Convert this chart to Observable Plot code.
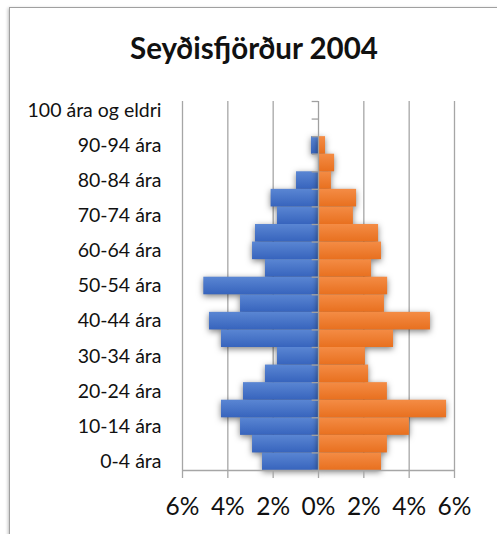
<!DOCTYPE html>
<html>
<head>
<meta charset="utf-8">
<script src="https://cdn.jsdelivr.net/npm/d3@7"></script>
<script src="https://cdn.jsdelivr.net/npm/@observablehq/plot@0.6"></script>
<style>
  body { margin: 0; background: #fff; font-family: Lato, "Open Sans", sans-serif; }
  #frame { position: absolute; left: 9px; top: 7px; width: 600px; height: 600px; border: 1px solid #a0a0a0; box-shadow: -1px 1px 3px rgba(0,0,0,0.25); background: #fff; }
  #title { position: absolute; left: 0; width: 508px; top: 34px; line-height: 28px; text-align: center; font-weight: bold; font-size: 29.5px; color: #111; }
  #chart { position: absolute; left: 0; top: 0; }
</style>
</head>
<body>
<div id="frame"></div>
<div id="chart"></div>
<div id="title">Seyðisfjörður 2004</div>
<script>
const ages = ["0-4 ára","5-9 ára","10-14 ára","15-19 ára","20-24 ára","25-29 ára","30-34 ára","35-39 ára","40-44 ára","45-49 ára","50-54 ára","55-59 ára","60-64 ára","65-69 ára","70-74 ára","75-79 ára","80-84 ára","85-89 ára","90-94 ára","95-99 ára","100 ára og eldri"];
const karlar = [2.47, 2.91, 3.44, 4.28, 3.31, 2.34, 1.81, 4.28, 4.81, 3.44, 5.06, 2.34, 2.91, 2.78, 1.81, 2.09, 0.97, 0, 0.31, 0, 0];
const konur  = [2.78, 3.04, 4.01, 5.65, 3.04, 2.21, 2.07, 3.31, 4.94, 2.91, 3.05, 2.34, 2.78, 2.65, 1.54, 1.68, 0.57, 0.71, 0.31, 0, 0];
const xTicks = [-6, -4, -2, 0, 2, 4, 6];

const table = ages.map((a, i) => ({age: a, i, karlar: karlar[i], konur: konur[i]}));
const labelTicks = ages.map((a, i) => i).filter(i => i % 2 === 0).map(i => i + 0.5);
const boundaries = d3.range(0, ages.length + 1);

const chart = Plot.plot({
  width: 497,
  height: 534,
  marginLeft: 182,
  marginRight: 43,
  marginTop: 101,
  marginBottom: 64,
  style: {background: "transparent", fontFamily: "Lato, 'Open Sans', sans-serif", color: "#111"},
  x: {domain: [-6, 6], label: null},
  y: {domain: [0, ages.length], label: null},
  marks: [
    Plot.ruleX(xTicks.filter(d => d !== 0), {y1: 0, y2: ages.length, stroke: "#a6a6a6", strokeWidth: 1.3}),
    Plot.rectX(table, {x1: 0, x2: d => -d.karlar, y1: "i", y2: d => d.i + 1, fill: "url(#gradBlue)"}),
    Plot.rectX(table, {x1: 0, x2: "konur", y1: "i", y2: d => d.i + 1, fill: "url(#gradOrange)"}),
    Plot.ruleX([0], {y1: 0, y2: ages.length, stroke: "#a0a0a0", strokeWidth: 1.3}),
    Plot.ruleY(boundaries, {x1: -0.28, x2: 0, stroke: "#a0a0a0", strokeWidth: 1.3}),
    Plot.ruleY([0], {stroke: "#a6a6a6", strokeWidth: 1.3}),
    Plot.axisX({ticks: xTicks, label: null, tickSize: 8, tickPadding: 19, stroke: "#a6a6a6", strokeWidth: 1.3, fill: "#111", fontSize: 24.5, tickFormat: d => Math.abs(d) + "%"}),
    Plot.axisY({ticks: labelTicks, label: null, tickSize: 0, tickPadding: 21, fontSize: 19.5, fill: "#111", tickFormat: d => ages[Math.floor(d)]})
  ]
});

const svg = d3.select(chart);
const defs = svg.insert("defs", ":first-child");
const gb = defs.append("linearGradient").attr("id", "gradBlue").attr("x1", 0).attr("y1", 0).attr("x2", 0).attr("y2", 1);
gb.append("stop").attr("offset", "0%").attr("stop-color", "#5a86d3");
gb.append("stop").attr("offset", "100%").attr("stop-color", "#3764bd");
const go = defs.append("linearGradient").attr("id", "gradOrange").attr("x1", 0).attr("y1", 0).attr("x2", 0).attr("y2", 1);
go.append("stop").attr("offset", "0%").attr("stop-color", "#f48c45");
go.append("stop").attr("offset", "100%").attr("stop-color", "#e8701f");
svg.selectAll('g[aria-label="rect"]').style("filter", "drop-shadow(0px 2px 3px rgba(0,0,0,0.5))");

document.getElementById("chart").appendChild(chart);
</script>
</body>
</html>
